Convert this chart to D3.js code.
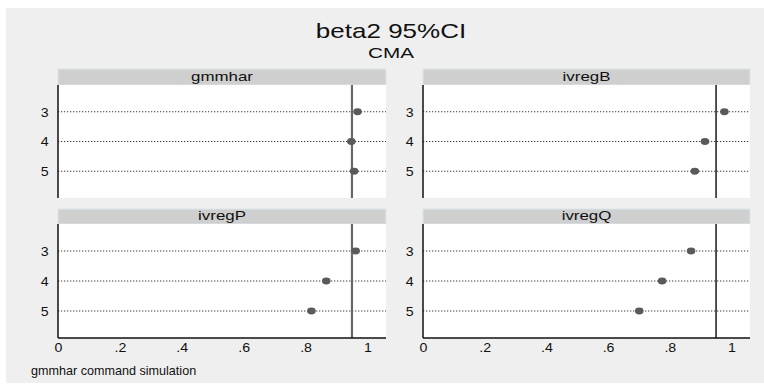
<!DOCTYPE html>
<html>
<head>
<meta charset="utf-8">
<script src="https://cdn.jsdelivr.net/npm/d3@7"></script>
<style>
  html, body { margin: 0; padding: 0; background: #ffffff; }
  svg { display: block; font-family: "Liberation Sans", Arial, sans-serif; }
</style>
</head>
<body>
<svg id="chart" width="764" height="385"></svg>
<script>
// Coverage of the 95% CI for beta2, by estimator and lag length
const panelNames = ["gmmhar", "ivregB", "ivregP", "ivregQ"];
const lags = [3, 4, 5];
const gmmhar = [0.968, 0.948, 0.957];
const ivregB = [0.977, 0.914, 0.881];
const ivregP = [0.962, 0.867, 0.819];
const ivregQ = [0.869, 0.775, 0.701];
const xTicks = [0, 0.2, 0.4, 0.6, 0.8, 1];
const nominal = 0.95;
const titleText = "beta2 95%CI";
const subtitleText = "CMA";
const noteText = "gmmhar command simulation";

const seriesByPanel = { gmmhar, ivregB, ivregP, ivregQ };

const svg = d3.select("#chart");
const W = 764, H = 385;

// outer graph region
svg.append("rect").attr("x", 0).attr("y", 0).attr("width", W).attr("height", H).attr("fill", "#ffffff");
svg.append("rect").attr("x", 6).attr("y", 8).attr("width", W - 6).attr("height", H - 10).attr("fill", "#efefef");

// text helper: horizontally widened glyphs, anchored at (x, y)
function label(parent, x, y, txt, size, k, anchor, fill) {
  return parent.append("text")
    .attr("transform", `translate(${x},${y}) scale(${k},1)`)
    .attr("text-anchor", anchor)
    .attr("font-size", size)
    .attr("fill", fill || "#111")
    .text(txt);
}

label(svg, 391, 38, titleText, 20, 1.3, "middle");
label(svg, 391, 57.5, subtitleText, 15, 1.38, "middle");

const cols = [{ x0: 58, x1: 386 }, { x0: 423, x1: 750 }];
const rows = [{ s0: 69, p0: 85, p1: 198 }, { s0: 209, p0: 224, p1: 338 }];
const refStyle = [{ stroke: "#686868", width: 2.2 }, { stroke: "#1a1a1a", width: 1.5 }];

const fmt = d => d === 0 ? "0" : d === 1 ? "1" : d3.format(".1f")(d).replace(/^0/, "");

panelNames.forEach((name, i) => {
  const c = cols[i % 2], r = rows[Math.floor(i / 2)];
  const values = seriesByPanel[name];

  const x = d3.scaleLinear().domain([0, 1.06]).range([c.x0, c.x1]);
  const y = d3.scaleLinear().domain([2.1, 5.9]).range([r.p0, r.p1]);

  const g = svg.append("g");

  // strip header
  g.append("rect")
    .attr("x", c.x0).attr("y", r.s0)
    .attr("width", c.x1 - c.x0).attr("height", r.p0 - r.s0)
    .attr("fill", "#cfcfcf").attr("stroke", "#dbe5ec").attr("stroke-width", 1);
  label(g, (c.x0 + c.x1) / 2, r.p0 - 4, name, 13, 1.3, "middle");

  // plot region
  g.append("rect")
    .attr("x", c.x0).attr("y", r.p0)
    .attr("width", c.x1 - c.x0).attr("height", r.p1 - r.p0)
    .attr("fill", "#ffffff");

  // dotted row guides
  g.selectAll("line.grid").data(lags).join("line")
    .attr("class", "grid")
    .attr("x1", c.x0).attr("x2", c.x1)
    .attr("y1", d => y(d)).attr("y2", d => y(d))
    .attr("stroke", "#3a3a3a").attr("stroke-width", 1)
    .attr("stroke-dasharray", "1.3,1.7");

  // nominal coverage reference
  g.append("line")
    .attr("x1", x(nominal)).attr("x2", x(nominal))
    .attr("y1", r.p0).attr("y2", r.p1)
    .attr("stroke", refStyle[i % 2].stroke)
    .attr("stroke-width", refStyle[i % 2].width);

  // y axis (lags)
  const yAxis = g.append("g")
    .attr("transform", `translate(${c.x0},0)`)
    .call(d3.axisLeft(y).tickValues(lags).tickSize(0).tickPadding(9).tickFormat(d3.format("d")));
  yAxis.select(".domain").remove();
  yAxis.selectAll("text")
    .attr("font-size", 13.5).attr("fill", "#111")
    .attr("font-family", "Liberation Sans, Arial, sans-serif")
    .attr("transform", "scale(1.05,1)");
  g.append("line")
    .attr("x1", c.x0).attr("x2", c.x0)
    .attr("y1", r.p0).attr("y2", r.p1)
    .attr("stroke", "#111").attr("stroke-width", 1.5);

  // x axis only on bottom row
  if (Math.floor(i / 2) === 1) {
    const xAxis = g.append("g")
      .attr("transform", `translate(0,${r.p1})`)
      .call(d3.axisBottom(x).tickValues(xTicks).tickSize(0).tickPadding(4).tickFormat(fmt));
    xAxis.select(".domain").remove();
    xAxis.selectAll("text")
      .attr("font-size", 13.5).attr("fill", "#111")
      .attr("font-family", "Liberation Sans, Arial, sans-serif")
      .attr("transform", "scale(1.05,1)");
    g.append("line")
      .attr("x1", c.x0).attr("x2", c.x1)
      .attr("y1", r.p1).attr("y2", r.p1)
      .attr("stroke", "#111").attr("stroke-width", 1.5);
  }

  // coverage markers
  g.selectAll("ellipse.pt").data(lags).join("ellipse")
    .attr("class", "pt")
    .attr("cx", (d, j) => x(values[j]))
    .attr("cy", d => y(d))
    .attr("rx", 4.3).attr("ry", 3.4)
    .attr("fill", "#5a5a5a");
});

label(svg, 31, 374.5, noteText, 12, 1.05, "start");
</script>
</body>
</html>
